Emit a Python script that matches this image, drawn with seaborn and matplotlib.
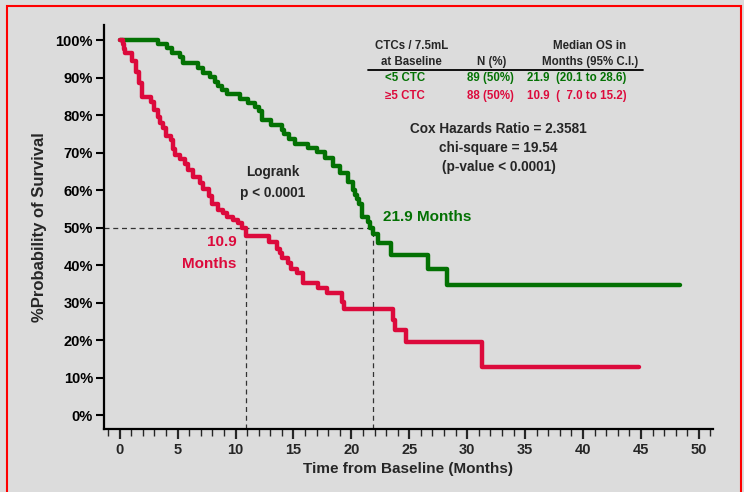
import numpy as np
import pandas as pd
import seaborn as sns
import matplotlib.pyplot as plt
from matplotlib.patches import Rectangle
from matplotlib.ticker import MultipleLocator, FuncFormatter

# Kaplan-Meier step points (months, % surviving)
low_ctc_months = [0, 3.3, 4.1, 4.5, 5.2, 5.5, 6.8, 7.2, 7.8, 8.2, 8.5, 8.8, 9.3, 10.4, 11.1,
                  11.7, 12.0, 12.3, 13.1, 14.0, 14.2, 14.6, 15.1, 16.3, 17.0, 17.7, 18.4,
                  19.0, 19.7, 20.1, 20.3, 20.5, 20.7, 20.9, 21.4, 21.6, 21.9, 22.3, 23.4,
                  26.6, 28.3, 48.4]
low_ctc_surv = [100, 98.9, 97.8, 96.6, 95.5, 93.8, 92.6, 91.3, 90.2, 88.9, 87.7, 86.6, 85.5,
                84.4, 83.3, 82.1, 81.0, 78.7, 77.3, 76.1, 74.9, 73.7, 72.3, 71.2, 70.1, 68.5,
                66.4, 64.5, 62.1, 60.0, 58.8, 57.6, 56.4, 52.8, 51.6, 50.0, 48.3, 45.9, 42.7,
                38.9, 34.7, 34.7]

high_ctc_months = [0, 0.3, 0.4, 0.5, 1.1, 1.4, 1.7, 1.9, 2.7, 3.0, 3.3, 3.5, 3.7, 4.0, 4.4,
                   4.6, 4.8, 5.2, 5.6, 5.9, 6.3, 6.9, 7.2, 7.7, 8.0, 8.5, 8.9, 9.3, 9.8, 10.2,
                   10.6, 10.9, 12.9, 13.6, 13.8, 14.0, 14.5, 14.8, 15.3, 15.8, 17.1, 17.9,
                   19.2, 19.4, 23.6, 23.8, 24.7, 31.3, 44.8]
high_ctc_surv = [100, 98.9, 97.7, 96.6, 94.3, 91.5, 88.6, 84.8, 83.5, 81.3, 79.5, 77.8, 76.6,
                 74.4, 73.3, 71.0, 69.3, 68.2, 67.0, 65.3, 63.6, 61.9, 60.2, 58.5, 56.3, 54.7,
                 53.9, 52.8, 51.9, 51.1, 50.0, 47.7, 46.1, 44.3, 43.2, 42.0, 40.5, 39.0, 37.9,
                 35.2, 33.9, 32.5, 30.1, 28.4, 25.3, 22.7, 19.5, 12.8, 12.8]

median_low = 21.9
median_high = 10.9

GREEN = "#037103"
RED = "#dc0a3c"
BG = "#dcdcdc"


def main():
    sns.set_theme(style="ticks")
    plt.rcParams["font.family"] = ["Liberation Sans", "DejaVu Sans"]
    plt.rcParams["font.weight"] = "bold"

    df = pd.concat([
        pd.DataFrame({"Months": low_ctc_months, "Survival": low_ctc_surv, "Group": "<5 CTC"}),
        pd.DataFrame({"Months": high_ctc_months, "Survival": high_ctc_surv, "Group": ">=5 CTC"}),
    ])

    fig = plt.figure(figsize=(7.44, 4.92), dpi=100, facecolor=BG)
    ax = fig.add_axes([0.140, 0.128, 0.818, 0.821], facecolor=BG)

    sns.lineplot(data=df, x="Months", y="Survival", hue="Group",
                 palette={"<5 CTC": GREEN, ">=5 CTC": RED}, estimator=None, sort=False,
                 drawstyle="steps-post", linewidth=3.2, solid_capstyle="round",
                 legend=False, ax=ax, zorder=3)

    ax.set_xlim(-1.34, 51.2)
    ax.set_ylim(-3.7, 104)

    # median guides
    dash = dict(color="#333333", linestyle=(0, (4, 3)), linewidth=0.9, zorder=2)
    ax.plot([-1.34, median_low], [50, 50], **dash)
    ax.plot([median_high, median_high], [-3.7, 50], **dash)
    ax.plot([median_low, median_low], [-3.7, 50], **dash)

    sns.despine(ax=ax, top=True, right=True)
    for s in ("left", "bottom"):
        ax.spines[s].set_linewidth(1.6)
        ax.spines[s].set_color("black")

    ax.set_yticks(np.arange(0, 101, 10))
    ax.yaxis.set_major_formatter(FuncFormatter(lambda v, p: f"{int(v)}%"))
    ax.xaxis.set_major_locator(MultipleLocator(5))
    ax.xaxis.set_minor_locator(MultipleLocator(1))
    ax.set_xticks(np.arange(0, 51, 5))
    ax.tick_params(axis="y", length=6, width=1.5, labelsize=10.5, pad=2, colors="black")
    ax.tick_params(axis="x", which="major", length=7, width=1.6, labelsize=10.5, pad=3)
    ax.tick_params(axis="x", which="minor", length=5, width=1.0)
    for lab in ax.get_xticklabels() + ax.get_yticklabels():
        lab.set_fontweight("bold")

    ax.set_xlabel("Time from Baseline (Months)", fontsize=11, fontweight="bold", labelpad=4)
    ax.set_ylabel("%Probability of Survival", fontsize=12, fontweight="bold", labelpad=6)

    # table in the top right
    fs = 8.3
    ax.text(25.2, 98.4, "CTCs / 7.5mL", ha="center", va="center", fontsize=fs, fontweight="bold")
    ax.text(25.2, 94.1, "at Baseline", ha="center", va="center", fontsize=fs, fontweight="bold")
    ax.text(32.1, 94.1, "N (%)", ha="center", va="center", fontsize=fs, fontweight="bold")
    ax.text(40.6, 98.4, "Median OS in", ha="center", va="center", fontsize=fs, fontweight="bold")
    ax.text(40.6, 94.1, "Months (95% C.I.)", ha="center", va="center", fontsize=fs, fontweight="bold")
    ax.plot([21.4, 45.2], [92.0, 92.0], color="black", linewidth=1.3)

    ax.text(24.6, 89.9, "<5 CTC", ha="center", va="center", fontsize=fs, fontweight="bold", color=GREEN)
    ax.text(32.0, 89.9, "89 (50%)", ha="center", va="center", fontsize=fs, fontweight="bold", color=GREEN)
    ax.text(35.2, 89.9, "21.9  (20.1 to 28.6)", ha="left", va="center", fontsize=fs, fontweight="bold", color=GREEN)
    ax.text(24.6, 85.1, "≥5 CTC", ha="center", va="center", fontsize=fs, fontweight="bold", color=RED)
    ax.text(32.0, 85.1, "88 (50%)", ha="center", va="center", fontsize=fs, fontweight="bold", color=RED)
    ax.text(35.2, 85.1, "10.9  (  7.0 to 15.2)", ha="left", va="center", fontsize=fs, fontweight="bold", color=RED)

    fs2 = 9.8
    ax.text(32.7, 76.3, "Cox Hazards Ratio = 2.3581", ha="center", va="center", fontsize=fs2, fontweight="bold")
    ax.text(32.7, 71.2, "chi-square = 19.54", ha="center", va="center", fontsize=fs2, fontweight="bold")
    ax.text(32.7, 66.1, "(p-value < 0.0001)", ha="center", va="center", fontsize=fs2, fontweight="bold")

    ax.text(13.2, 64.8, "Logrank", ha="center", va="center", fontsize=fs2, fontweight="bold")
    ax.text(13.2, 59.2, "p < 0.0001", ha="center", va="center", fontsize=fs2, fontweight="bold")

    ax.text(22.7, 52.8, "21.9 Months", ha="left", va="center", fontsize=11, fontweight="bold", color=GREEN)
    ax.text(10.1, 46.1, "10.9", ha="right", va="center", fontsize=11, fontweight="bold", color=RED)
    ax.text(10.1, 40.3, "Months", ha="right", va="center", fontsize=11, fontweight="bold", color=RED)

    # red frame around the whole slide
    fig.patches.append(Rectangle((7 / 744, -0.02), (741 - 7) / 744, 1.02 - 6 / 492,
                                 transform=fig.transFigure, fill=False,
                                 edgecolor="red", linewidth=1.5))

    fig.savefig("out.png", dpi=100, facecolor=BG)


if __name__ == "__main__":
    main()
